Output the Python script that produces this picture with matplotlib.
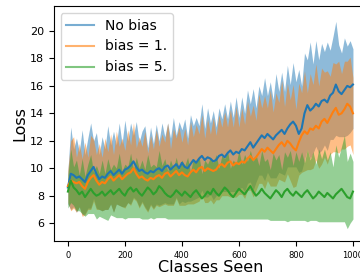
import numpy as np
import matplotlib
matplotlib.use("Agg")
import matplotlib.pyplot as plt
from matplotlib.lines import Line2D

# x positions: classes seen, every 10 classes
classes = np.arange(0, 1001, 10)

# mean loss per curve
no_bias = [8.6, 9.6, 9.5, 9.3, 9.4, 9.2, 9.0, 9.5, 9.8, 10.1, 9.6,
           9.2, 9.4, 9.3, 9.6, 9.8, 9.5, 9.7, 9.9, 9.6, 9.9,
           10.0, 10.2, 10.5, 10.1, 9.8, 9.9, 9.7, 9.6, 9.8, 9.7,
           9.9, 10.0, 9.8, 10.1, 10.2, 9.9, 10.1, 10.3, 10.0, 10.4,
           10.1, 10.0, 10.3, 10.6, 10.4, 10.7, 10.9, 10.6, 10.8, 10.7,
           10.5, 10.6, 10.9, 11.0, 10.8, 11.1, 11.3, 11.0, 11.2, 11.1,
           11.4, 11.3, 11.6, 11.9, 11.5, 11.8, 12.1, 12.4, 12.2, 12.5,
           12.3, 12.1, 12.4, 12.6, 12.8, 12.5, 12.9, 13.2, 13.4, 13.1,
           12.5, 12.9, 14.0, 14.6, 14.2, 14.4, 14.7, 14.5, 14.9, 15.0,
           14.8, 15.3, 15.5, 16.1, 15.6, 15.4, 15.7, 16.0, 15.9, 16.1]
bias_1 = [8.7, 9.1, 9.0, 8.9, 9.0, 8.7, 8.5, 9.0, 9.3, 9.5, 9.1,
          8.8, 9.0, 8.9, 9.2, 9.4, 9.1, 9.3, 9.5, 9.2, 9.4,
          9.6, 9.7, 10.0, 9.6, 9.3, 9.4, 9.2, 9.1, 9.3, 9.2,
          9.4, 9.5, 9.3, 9.6, 9.7, 9.4, 9.6, 9.8, 9.5, 9.7,
          9.5, 9.4, 9.7, 9.9, 9.7, 10.0, 10.1, 9.8, 10.0, 9.9,
          9.8, 9.9, 10.2, 10.3, 10.1, 10.4, 10.5, 10.2, 10.4, 10.3,
          10.5, 10.4, 10.7, 10.9, 10.6, 10.8, 11.1, 11.4, 11.2, 11.5,
          11.3, 11.1, 11.4, 11.7, 11.9, 11.6, 12.0, 11.8, 11.5, 11.3,
          11.9, 12.4, 12.7, 12.5, 12.9, 12.8, 13.1, 12.9, 13.4, 13.6,
          13.3, 13.7, 14.1, 14.4, 13.9, 14.0, 14.3, 14.7, 14.5, 14.0]
bias_5 = [8.3, 9.1, 8.6, 8.4, 8.1, 8.3, 7.9, 8.2, 8.5, 8.2, 8.0,
          8.1, 8.3, 8.0, 8.2, 8.4, 8.1, 8.3, 8.5, 8.2, 8.0,
          8.4, 8.6, 8.3, 8.5, 8.2, 8.0, 8.3, 8.6, 8.4, 8.1,
          8.3, 8.7, 8.5, 8.2, 8.0, 7.9, 8.1, 8.4, 8.2, 8.0,
          8.3, 8.1, 7.9, 8.2, 8.4, 8.1, 7.8, 8.0, 8.3, 8.1,
          8.5, 8.2, 8.0, 8.3, 8.6, 8.4, 8.1, 7.9, 8.2, 8.5,
          8.3, 8.1, 8.4, 8.7, 8.3, 8.0, 8.2, 8.5, 8.2, 8.0,
          7.8, 8.1, 8.4, 8.2, 7.9, 8.3, 8.5, 8.2, 8.0, 8.3,
          8.1, 7.9, 8.2, 8.4, 8.1, 7.8, 8.0, 8.3, 8.1, 7.9,
          8.2, 8.0, 7.8, 8.1, 8.3, 8.5, 8.2, 7.9, 7.8, 8.3]

# spread above the mean (spiky upper edge of each band)
no_bias_hi = [1.2, 3.4, 1.9, 2.9, 1.8, 3.6, 2.0, 2.7, 3.5, 1.9, 3.0,
              1.8, 2.9, 2.1, 3.5, 1.9, 3.2, 2.0, 3.4, 2.2, 3.6,
              2.0, 3.1, 1.9, 3.3, 2.1, 2.8, 3.4, 1.9, 3.2, 2.1,
              3.3, 2.0, 3.5, 2.2, 3.1, 2.3, 3.6, 2.1, 3.4, 2.4,
              3.5, 2.2, 3.6, 2.5, 3.3, 2.4, 3.8, 2.3, 3.6, 2.6,
              3.7, 2.4, 3.5, 2.6, 3.9, 2.5, 3.6, 2.7, 4.0, 2.6,
              3.8, 2.7, 4.1, 2.8, 4.3, 2.6, 3.9, 2.9, 4.4, 2.8,
              4.0, 2.9, 4.5, 3.0, 4.2, 3.1, 4.6, 2.9, 4.3, 3.2,
              4.7, 3.1, 4.4, 3.3, 5.0, 3.2, 4.6, 3.4, 4.2, 3.5,
              4.4, 3.3, 4.1, 4.6, 3.4, 3.0, 3.8, 2.9, 3.4, 2.6]
bias_1_hi = [1.2, 2.9, 3.3, 1.9, 2.8, 2.0, 3.4, 1.8, 3.1, 2.6, 1.9,
             3.0, 1.8, 3.3, 2.0, 3.1, 1.9, 3.4, 2.1, 3.0, 1.9,
             3.2, 2.0, 3.3, 1.9, 3.0, 2.2, 3.5, 2.0, 3.1, 2.2,
             3.4, 2.1, 3.2, 2.3, 3.6, 2.0, 3.3, 2.4, 3.5, 2.2,
             3.4, 2.3, 3.7, 2.4, 3.5, 2.5, 3.8, 2.4, 3.6, 2.6,
             3.9, 2.5, 3.7, 2.7, 4.0, 2.6, 3.8, 2.8, 4.1, 2.7,
             3.9, 2.8, 4.2, 2.9, 4.0, 2.7, 4.3, 3.0, 4.1, 2.9,
             4.4, 3.0, 4.1, 3.1, 4.5, 2.9, 4.2, 3.2, 4.6, 3.0,
             4.3, 3.1, 4.4, 3.0, 4.0, 3.3, 4.5, 3.1, 3.9, 3.4,
             3.8, 3.0, 3.6, 3.2, 3.9, 2.9, 3.5, 3.1, 3.6, 2.6]
bias_5_hi = [1.2, 2.3, 1.5, 2.2, 1.4, 2.4, 1.5, 2.1, 2.5, 1.5, 2.2,
             1.5, 2.3, 1.6, 2.5, 1.5, 2.2, 1.7, 2.6, 1.6, 2.3,
             1.7, 2.5, 1.6, 2.3, 1.8, 2.6, 1.6, 2.4, 1.7, 2.2,
             1.8, 2.6, 1.7, 2.5, 1.8, 2.7, 1.9, 2.4, 1.7, 2.6,
             1.9, 2.7, 1.8, 2.5, 2.0, 2.8, 1.8, 2.6, 2.0, 2.7,
             1.9, 2.8, 2.0, 2.6, 2.1, 2.9, 1.9, 2.7, 2.1, 2.8,
             2.0, 2.9, 2.1, 2.6, 2.2, 3.0, 2.0, 2.8, 2.3, 2.7,
             2.1, 3.0, 2.2, 2.8, 2.0, 2.9, 2.3, 3.1, 2.2, 2.9,
             2.4, 3.3, 2.2, 3.0, 2.5, 3.4, 2.3, 3.1, 2.6, 3.5,
             2.4, 3.2, 2.3, 3.6, 2.5, 3.1, 4.2, 2.6, 3.3, 2.2]

# spread below the mean (calmer lower edge)
no_bias_lo = [1.2, 2.6, 2.3, 2.5, 2.2, 2.6, 2.3, 2.4, 2.7, 2.3, 2.5,
              2.2, 2.5, 2.3, 2.6, 2.4, 2.7, 2.3, 2.6, 2.4, 2.7,
              2.5, 2.8, 2.6, 2.4, 2.6, 2.3, 2.5, 2.7, 2.4, 2.6,
              2.5, 2.7, 2.4, 2.6, 2.8, 2.5, 2.7, 2.4, 2.6, 2.8,
              2.6, 2.4, 2.7, 2.9, 2.6, 2.8, 2.5, 2.7, 2.9, 2.6,
              2.8, 2.6, 2.9, 2.7, 2.5, 2.8, 3.0, 2.7, 2.9, 2.6,
              2.8, 3.0, 2.7, 2.9, 3.1, 2.8, 2.6, 2.9, 3.1, 2.8,
              3.0, 2.8, 3.1, 2.9, 3.2, 3.0, 2.8, 3.1, 3.3, 3.0,
              2.8, 3.1, 3.4, 3.2, 3.5, 3.3, 3.1, 3.4, 3.6, 3.3,
              3.5, 3.2, 3.4, 3.7, 3.3, 3.1, 3.4, 3.6, 3.3, 3.2]
bias_1_lo = [1.2, 2.2, 1.9, 2.1, 1.8, 2.2, 1.9, 2.0, 2.3, 1.9, 2.1,
             1.8, 2.1, 1.9, 2.2, 2.0, 2.3, 1.9, 2.2, 2.0, 2.3,
             2.1, 2.4, 2.2, 2.0, 2.2, 1.9, 2.1, 2.3, 2.0, 2.2,
             2.1, 2.3, 2.0, 2.2, 2.4, 2.1, 2.3, 2.0, 2.2, 2.4,
             2.2, 2.0, 2.3, 2.5, 2.2, 2.4, 2.1, 2.3, 2.5, 2.2,
             2.4, 2.2, 2.5, 2.3, 2.1, 2.4, 2.6, 2.3, 2.5, 2.2,
             2.4, 2.6, 2.3, 2.5, 2.7, 2.4, 2.2, 2.5, 2.7, 2.4,
             2.6, 2.4, 2.7, 2.5, 2.8, 2.6, 2.4, 2.7, 2.9, 2.6,
             2.4, 2.7, 2.9, 2.6, 3.0, 2.8, 2.5, 2.9, 3.1, 2.8,
             3.0, 2.7, 2.9, 3.2, 2.8, 2.6, 2.9, 3.1, 2.8, 3.0]
bias_5_lo = [1.2, 1.6, 1.3, 1.5, 1.2, 1.6, 1.4, 1.5, 1.8, 1.5, 1.7,
             1.6, 1.9, 1.7, 2.0, 1.8, 1.6, 1.9, 2.1, 1.8, 1.7,
             2.0, 2.2, 1.9, 2.1, 1.8, 1.7, 2.0, 2.3, 2.0, 1.8,
             1.9, 2.3, 2.1, 1.8, 1.7, 1.6, 1.8, 2.1, 1.9, 1.7,
             2.0, 1.8, 1.6, 1.9, 2.1, 1.8, 1.5, 1.7, 2.0, 1.8,
             2.2, 1.9, 1.7, 2.0, 2.3, 2.1, 1.8, 1.6, 1.9, 2.2,
             2.0, 1.8, 2.1, 2.4, 2.0, 1.7, 1.9, 2.2, 1.9, 1.7,
             1.6, 1.9, 2.2, 2.0, 1.7, 2.1, 2.4, 2.0, 1.8, 2.1,
             1.9, 1.7, 2.0, 2.3, 1.9, 1.6, 1.8, 2.2, 2.0, 1.8,
             2.1, 1.9, 1.7, 2.0, 2.2, 2.4, 2.1, 2.3, 1.8, 2.0]

labels = ["No bias", "bias = 1.", "bias = 5."]
colors = ["#1f77b4", "#ff7f0e", "#2ca02c"]

fig = plt.figure(figsize=(3.6, 2.74), dpi=100)
# axes runs off the right edge, like the cropped original
ax = fig.add_axes([0.149, 0.120, 0.871, 0.858])

series = [(no_bias, no_bias_lo, no_bias_hi),
          (bias_1, bias_1_lo, bias_1_hi),
          (bias_5, bias_5_lo, bias_5_hi)]
for (m, lo, hi), c in zip(series, colors):
    m = np.array(m)
    ax.fill_between(classes, m - np.array(lo), m + np.array(hi),
                    color=c, alpha=0.5, linewidth=0)
    ax.plot(classes, m, color=c, linewidth=1.5)

ax.set_xlim(-50, 1050)
ax.set_ylim(4.69, 21.82)
ax.set_yticks([6, 8, 10, 12, 14, 16, 18, 20])
ax.set_xticks([0, 200, 400, 600, 800, 1000])
ax.tick_params(axis="y", labelsize=8)
ax.tick_params(axis="x", labelsize=6)
ax.set_xlabel("Classes Seen", fontsize=11.5, labelpad=0)
ax.set_ylabel("Loss", fontsize=11.5, labelpad=2)

handles = [Line2D([], [], color=c, alpha=0.6, linewidth=1.5) for c in colors]
ax.legend(handles, labels, loc="upper left", fontsize=10)

fig.savefig("out.png", dpi=100)
